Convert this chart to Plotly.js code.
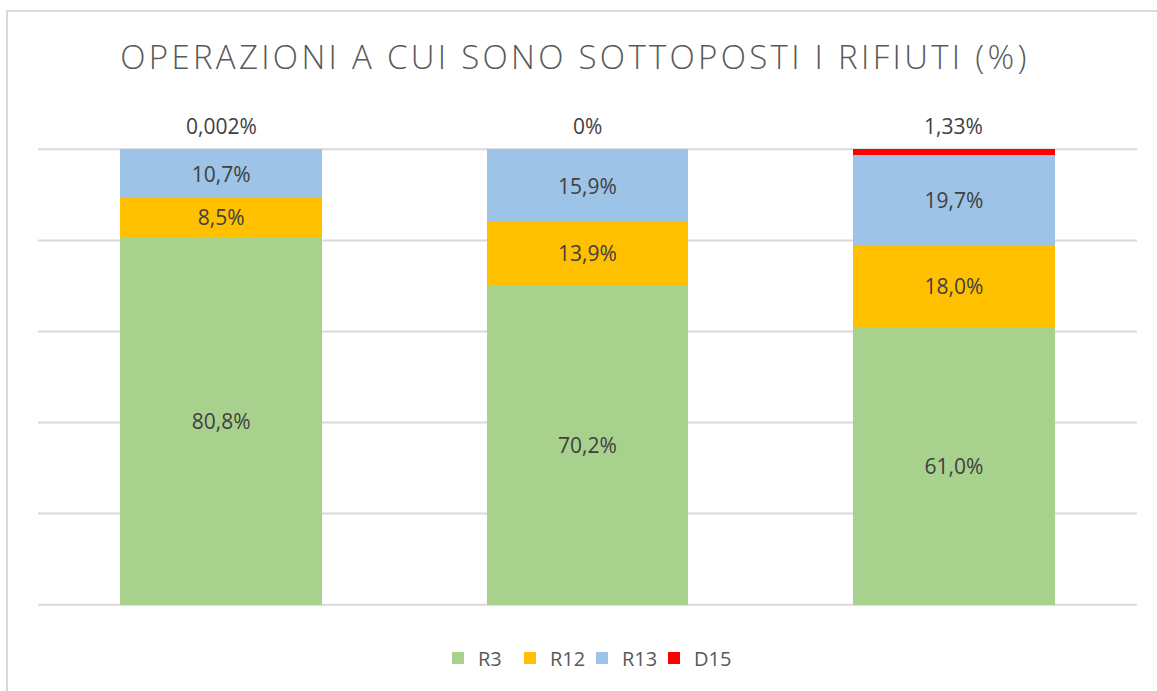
<!DOCTYPE html>
<html>
<head>
<meta charset="utf-8">
<script src="https://cdn.plot.ly/plotly-3.0.1.min.js"></script>
<style>
  html, body { margin:0; padding:0; background:#fff; }
  #frame { position:absolute; left:6px; top:10px; width:1151px; height:681px; border-left:2px solid #d9d9d9; border-top:2px solid #d9d9d9; box-sizing:border-box; pointer-events:none; z-index:5; }
  #chart { position:absolute; left:0; top:0; width:1157px; height:691px; }
  .gtitle { letter-spacing: 3.3px; }
  .legend .scrollbox { clip-path: none !important; }
</style>
</head>
<body>
<div id="chart"></div>
<div id="frame"></div>
<script>
const categories = ["A", "B", "C"];
const seriesNames = ["R3", "R12", "R13", "D15"];
const R3  = [80.8, 70.2, 61.0];
const R12 = [8.5, 13.9, 18.0];
const R13 = [10.7, 15.9, 19.7];
const D15 = [0.002, 0, 1.33];
const D15labels = ["0,002%", "0%", "1,33%"];
const gridValues = [0, 20, 40, 60, 80, 100];
const colors = ["#A9D18E", "#FFC000", "#9DC3E6", "#FF0000"];

const labelFont = {family: "Open Sans, Lato, sans-serif", size: 21, color: "#404040"};

function barTrace(name, y, color, showText) {
  return {
    type: "bar", name: name, x: categories, y: y,
    marker: {color: color, line: {width: 0}},
    texttemplate: showText ? "%{y:.1f}%" : "",
    textposition: showText ? "inside" : "none",
    insidetextanchor: "middle",
    textangle: 0,
    constraintext: "none",
    insidetextfont: labelFont,
    hoverinfo: "none"
  };
}

const data = [
  barTrace(seriesNames[0], R3, colors[0], true),
  barTrace(seriesNames[1], R12, colors[1], true),
  barTrace(seriesNames[2], R13, colors[2], true),
  barTrace(seriesNames[3], D15, colors[3], false)
];

const totals = categories.map((c, i) => Math.min(100, R3[i] + R12[i] + R13[i] + D15[i]));
const annotations = categories.map((c, i) => ({
  x: c, y: totals[i], xref: "x", yref: "y",
  text: D15labels[i], showarrow: false,
  yanchor: "bottom", yshift: 7,
  font: labelFont
}));

const shapes = gridValues.map(v => ({
  type: "line", xref: "paper", x0: 0, x1: 1, yref: "y", y0: v, y1: v,
  line: {color: "#d9d9d9", width: 2}, layer: "below"
}));

const layout = {
  width: 1157, height: 691,
  paper_bgcolor: "#fff", plot_bgcolor: "#fff",
  separators: ",.",
  barmode: "stack",
  bargap: 0.45,
  margin: {l: 38, r: 20, t: 148, b: 85},
  title: {
    text: "OPERAZIONI A CUI SONO SOTTOPOSTI I RIFIUTI (%)",
    font: {family: "Open Sans, Lato, sans-serif", size: 33, color: "#595959", weight: 300},
    x: 0.497, xanchor: "center", y: 1 - 57/691, yanchor: "middle", yref: "container"
  },
  xaxis: {showticklabels: false, showgrid: false, zeroline: false, showline: false, ticks: ""},
  yaxis: {range: [-0.3, 100.3], showticklabels: false, showgrid: false,
          zeroline: false, showline: false, ticks: "", fixedrange: true},
  showlegend: true,
  legend: {orientation: "h", x: 0.495, xanchor: "center", y: 1 - 658/691, yref: "container", yanchor: "middle",
           font: {family: "Open Sans, Lato, sans-serif", size: 20, color: "#595959"},
           itemwidth: 30, entrywidth: 27, entrywidthmode: "pixels", traceorder: "normal"},
  shapes: shapes,
  annotations: annotations
};

Plotly.newPlot("chart", data, layout, {displayModeBar: false, staticPlot: true});
</script>
</body>
</html>
